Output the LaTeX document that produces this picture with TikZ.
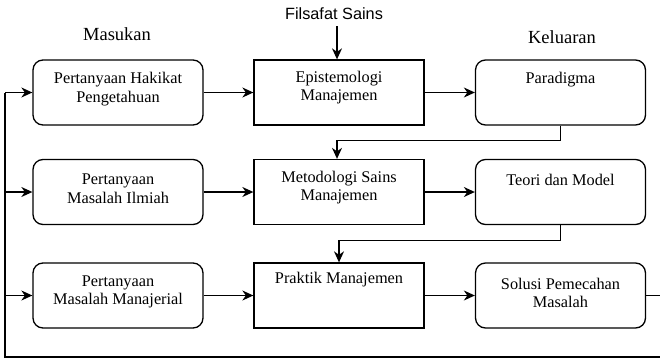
\documentclass[tikz,border=0pt]{standalone}
\usepackage{fontspec}
\setmainfont{Liberation Serif}
\newfontfamily\labelsans{Liberation Sans}
\usetikzlibrary{arrows.meta}
\begin{document}
\begin{tikzpicture}[x=1pt,y=-1pt,
  box/.style={draw, line width=1.3pt, minimum width=170pt, minimum height=65pt, inner sep=0pt},
  rbox/.style={box, rounded corners=10pt},
  txt/.style={align=center, font=\fontsize{16.3}{18.5}\selectfont, inner sep=0pt},
  head/.style={font=\fontsize{18.5}{21}\selectfont, inner sep=0pt},
  arr/.style={-{Stealth[length=11pt,width=10pt,inset=3.5pt]}, line width=1.3pt},
  ln/.style={line width=1.3pt}]
\useasboundingbox (0,0) rectangle (660,359);

% column headings
\node[head] (hin) at (117,34) {Masukan};
\node[head] (hout) at (562,37) {Keluaran};
\node[head, font=\labelsans\fontsize{16.3}{19}\selectfont] (fs) at (334,14) {Filsafat Sains};

% row 1
\node[rbox] (q1) at (118,92.5) {};
\node[box]  (p1) at (339,92.5) {};
\node[rbox] (o1) at (560.5,92.5) {};
\node[txt] (q1t) at (118,89) {Pertanyaan Hakikat\\Pengetahuan};
\node[txt] (p1t) at (339,87.5) {Epistemologi\\Manajemen};
\node[txt] (o1t) at (560.5,80) {Paradigma};

% row 2
\node[rbox] (q2) at (118,192) {};
\node[box]  (p2) at (339,192) {};
\node[rbox] (o2) at (560.5,192) {};
\node[txt] (q2t) at (118,188.5) {Pertanyaan\\Masalah Ilmiah};
\node[txt] (p2t) at (339,187.5) {Metodologi Sains\\Manajemen};
\node[txt] (o2t) at (560.5,180) {Teori dan Model};

% row 3
\node[rbox] (q3) at (118,295.5) {};
\node[box]  (p3) at (339,295.5) {};
\node[rbox] (o3) at (560.5,295.5) {};
\node[txt] (q3t) at (118,292) {Pertanyaan\\Masalah Manajerial};
\node[txt] (p3t) at (339,280) {Praktik Manajemen};
\node[txt] (o3t) at (560.5,293) {Solusi Pemecahan\\Masalah};

% feedback loop corners
\coordinate (fbL) at (5,357);
\coordinate (fbR) at (662,357);
\coordinate (fbE) at (662,295.5);

% horizontal flow
\foreach \r in {1,2,3}{
  \draw[arr] (q\r.east) -- (p\r.west);
  \draw[arr] (p\r.east) -- (o\r.west);
  \draw[arr] (fbL |- q\r.west) -- (q\r.west);
}

% philosophy of science feeds epistemology
\draw[arr] (fs.south -| p1.north) ++(-2,6) -- ([xshift=-2pt]p1.north);

% outputs feed the next level down
\draw[arr] (o1.south) -- ++(0,15) -| ([xshift=-2pt]p2.north);
\draw[arr] (o2.south) -- ++(0,15.5) -| (p3.north);

% feedback from solutions back to the inputs
\draw[ln] (o3.east) -- (fbE) -- (fbR) -- (fbL) -- (fbL |- q1.west);
\end{tikzpicture}
\end{document}
